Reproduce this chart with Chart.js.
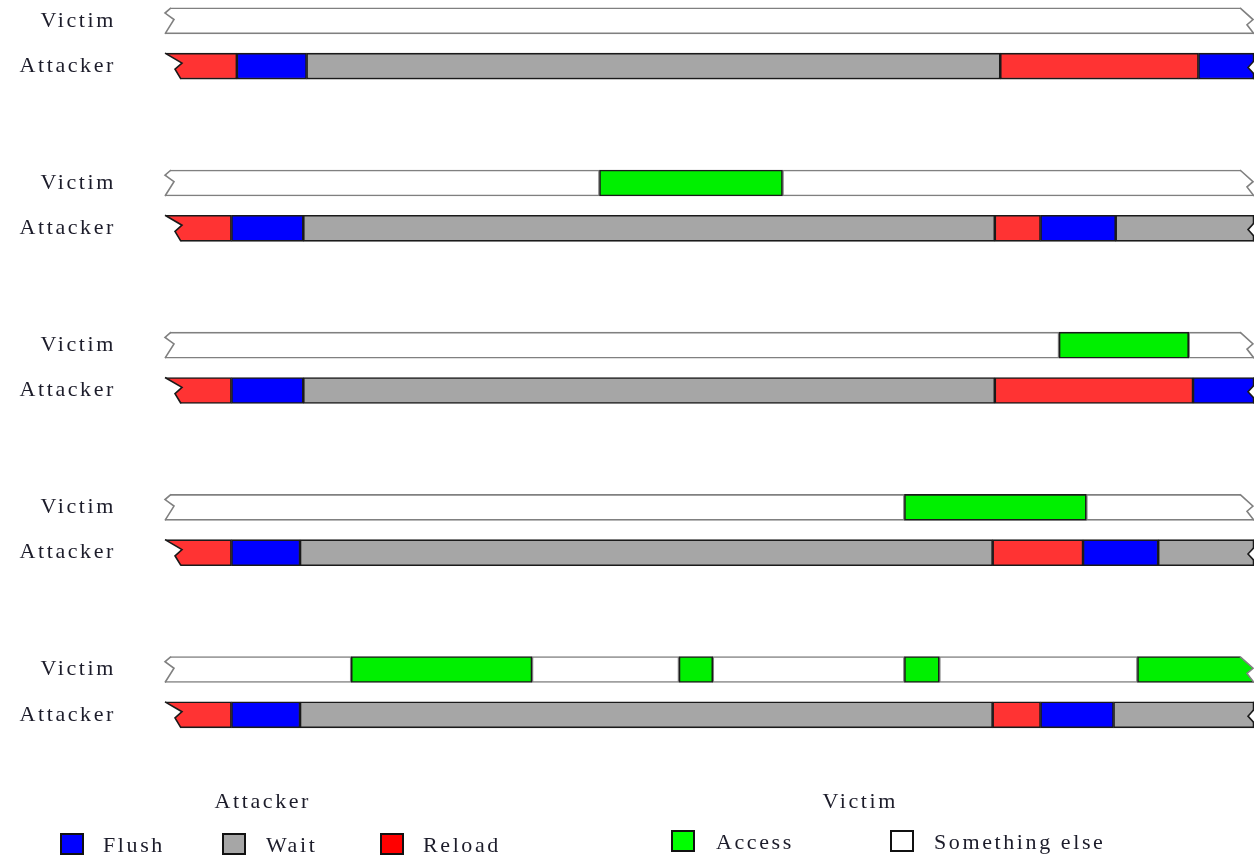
<!DOCTYPE html>
<html>
<head>
<meta charset="utf-8">
<script src="https://cdn.jsdelivr.net/npm/chart.js@4/dist/chart.umd.min.js"></script>
<style>
  body { margin: 0; background: #fff; }
  #wrap { position: relative; width: 1254px; height: 855px; overflow: hidden; }
  .lg { position: absolute; font: 22px 'Liberation Serif', 'Times New Roman', serif; color: #1c1c2a; letter-spacing: 2.6px; line-height: 22px; white-space: nowrap; }
  .sq { position: absolute; width: 20px; height: 18px; border: 2px solid #111; }
</style>
</head>
<body>
<div id="wrap">
  <canvas id="chart" width="1254" height="855"></canvas>
</div>
<script>
// phases and colours
const phases = [ 'Access', 'Something else', 'Flush', 'Wait', 'Reload' ]
const phaseColors = [ '#00f000', '#ffffff', '#0000ff', '#a6a6a6', '#ff3333' ]
const legendColors = [ '#00ff00', '#ffffff', '#0000ff', '#a6a6a6', '#ff0000' ]
const rowLabels = [ 'Victim', 'Attacker' ]

// each scenario: sequence of phases and the times where they change (0..100)
const victimSteps = [
  [ 'Something else' ],
  [ 'Something else', 'Access', 'Something else' ],
  [ 'Something else', 'Access', 'Something else' ],
  [ 'Something else', 'Access', 'Something else' ],
  [ 'Something else', 'Access', 'Something else', 'Access', 'Something else', 'Access', 'Something else', 'Access' ]
]
const victimTimes = [
  [ 0, 100 ],
  [ 0, 39.9, 56.7, 100 ],
  [ 0, 82.1, 94.0, 100 ],
  [ 0, 67.9, 84.6, 100 ],
  [ 0, 17.1, 33.7, 47.2, 50.3, 67.9, 71.1, 89.3, 100 ]
]
const attackerSteps = [
  [ 'Reload', 'Flush', 'Wait', 'Reload', 'Flush' ],
  [ 'Reload', 'Flush', 'Wait', 'Reload', 'Flush', 'Wait' ],
  [ 'Reload', 'Flush', 'Wait', 'Reload', 'Flush' ],
  [ 'Reload', 'Flush', 'Wait', 'Reload', 'Flush', 'Wait' ],
  [ 'Reload', 'Flush', 'Wait', 'Reload', 'Flush', 'Wait' ]
]
const attackerTimes = [
  [ 0, 6.6, 13.0, 76.7, 94.9, 100 ],
  [ 0, 6.1, 12.7, 76.2, 80.4, 87.3, 100 ],
  [ 0, 6.1, 12.7, 76.2, 94.4, 100 ],
  [ 0, 6.1, 12.4, 76.0, 84.3, 91.2, 100 ],
  [ 0, 6.1, 12.4, 76.0, 80.4, 87.1, 100 ]
]

const legendGroups = [
  [ 'Attacker', [ 'Flush', 'Wait', 'Reload' ] ],
  [ 'Victim', [ 'Access', 'Something else' ] ]
]

// layout
const GROUP_GAP = 3.58
const BAR_H = 26
const rowPositions = [ ]
victimSteps.forEach( ( s, g ) => { rowPositions.push( g * GROUP_GAP, g * GROUP_GAP + 1 ) } )

const datasets = phases.map( ( p, k ) => {
  const data = [ ]
  victimSteps.forEach( ( steps, g ) => {
    steps.forEach( ( s, i ) => {
      if ( s === p ) data.push( { x: [ victimTimes[ g ][ i ], victimTimes[ g ][ i + 1 ] ], y: g * GROUP_GAP } )
    } )
    attackerSteps[ g ].forEach( ( s, i ) => {
      if ( s === p ) data.push( { x: [ attackerTimes[ g ][ i ], attackerTimes[ g ][ i + 1 ] ], y: g * GROUP_GAP + 1 } )
    } )
  } )
  return {
    label: p,
    data,
    backgroundColor: phaseColors[ k ],
    borderColor: p === 'Something else' ? '#808080' : '#1a1a1a',
    borderWidth: 1.6,
    borderSkipped: false,
    barThickness: BAR_H,
    grouped: false
  }
} )

// torn ends of each strip
const leftTear = { victim: [ [ 6, 0 ], [ 0, 0.2 ], [ 9, 0.45 ], [ 0, 1 ] ], attacker: [ [ 0, 0 ], [ 17, 0.38 ], [ 10, 0.62 ], [ 16, 1 ] ] }
const rightTear = { victim: [ [ -14, 0 ], [ -1, 0.45 ], [ -7, 0.65 ], [ 0, 1 ] ], attacker: [ [ 0, 0 ], [ 0, 0.3 ], [ -6, 0.55 ], [ 0, 0.8 ], [ 0, 1 ] ] }
const edgeColor = { victim: '#808080', attacker: '#1a1a1a' }

function tear( ctx, xe, top, bottom, pts, side, color ) {
  const h = bottom - top
  const p = pts.map( ( [ dx, f ] ) => [ xe + dx, top + f * h ] )
  ctx.save( )
  ctx.beginPath( )
  ctx.moveTo( xe + side * 8, top - 3 )
  ctx.lineTo( p[ 0 ][ 0 ], top - 3 )
  p.forEach( q => ctx.lineTo( q[ 0 ], q[ 1 ] ) )
  ctx.lineTo( p[ p.length - 1 ][ 0 ], bottom + 3 )
  ctx.lineTo( xe + side * 8, bottom + 3 )
  ctx.closePath( )
  ctx.fillStyle = '#fff'
  ctx.fill( )
  ctx.beginPath( )
  p.forEach( ( q, i ) => i ? ctx.lineTo( q[ 0 ], q[ 1 ] ) : ctx.moveTo( q[ 0 ], q[ 1 ] ) )
  ctx.strokeStyle = color
  ctx.lineWidth = 1.6
  ctx.stroke( )
  ctx.restore( )
}

const tornEdges = {
  id: 'tornEdges',
  beforeDraw( chart ) { chart.ctx.letterSpacing = '2.6px' },
  afterDatasetsDraw( chart ) {
    const { ctx, scales: { x, y } } = chart
    const x0 = x.getPixelForValue( 0 ), x1 = x.getPixelForValue( 100 )
    rowPositions.forEach( ( pos, i ) => {
      const kind = i % 2 ? 'attacker' : 'victim'
      const yc = y.getPixelForValue( pos )
      tear( ctx, x0, yc - BAR_H / 2, yc + BAR_H / 2, leftTear[ kind ], -1, edgeColor[ kind ] )
      tear( ctx, x1, yc - BAR_H / 2, yc + BAR_H / 2, rightTear[ kind ], 1, edgeColor[ kind ] )
    } )
  },
  afterDraw( chart ) { chart.ctx.letterSpacing = '0px' }
}

new Chart( document.getElementById( 'chart' ), {
  type: 'bar',
  data: { datasets },
  options: {
    responsive: false,
    animation: false,
    indexAxis: 'y',
    events: [ ],
    layout: { padding: 0 },
    plugins: { legend: { display: false }, tooltip: { enabled: false } },
    scales: {
      x: { type: 'linear', min: 0, max: 100, display: false },
      y: {
        type: 'linear',
        reverse: true,
        offset: false,
        min: -0.46,
        max: 855 / 45.3 - 0.46,
        grid: { display: false },
        border: { display: false },
        afterBuildTicks: ( scale ) => { scale.ticks = rowPositions.map( v => ( { value: v } ) ) },
        afterFit: ( scale ) => {
          scale.width = 165
          scale.paddingTop = 0
          scale.paddingBottom = 0
        },
        ticks: {
          padding: 41,
          color: '#1c1c2a',
          font: { family: "'Liberation Serif', 'Times New Roman', serif", size: 22 },
          callback: ( v, i ) => rowLabels[ i % 2 ]
        }
      }
    }
  },
  plugins: [ tornEdges ]
} )

// legend underneath
const wrap = document.getElementById( 'wrap' )
const legendPos = [
  { title: [ 263, 790 ], items: [ [ 60, 103 ], [ 222, 266 ], [ 380, 423 ] ], top: 833 },
  { title: [ 860, 790 ], items: [ [ 671, 716 ], [ 890, 934 ] ], top: 830 }
]
legendGroups.forEach( ( [ title, items ], g ) => {
  const pos = legendPos[ g ]
  const t = document.createElement( 'div' )
  t.className = 'lg'
  t.textContent = title
  wrap.appendChild( t )
  t.style.left = ( pos.title[ 0 ] - t.offsetWidth / 2 ) + 'px'
  t.style.top = pos.title[ 1 ] + 'px'
  items.forEach( ( name, i ) => {
    const sq = document.createElement( 'div' )
    sq.className = 'sq'
    sq.style.left = pos.items[ i ][ 0 ] + 'px'
    sq.style.top = pos.top + 'px'
    sq.style.background = legendColors[ phases.indexOf( name ) ]
    wrap.appendChild( sq )
    const lb = document.createElement( 'div' )
    lb.className = 'lg'
    lb.textContent = name
    lb.style.left = pos.items[ i ][ 1 ] + 'px'
    lb.style.top = ( pos.top + 1 ) + 'px'
    wrap.appendChild( lb )
  } )
} )
</script>
</body>
</html>
